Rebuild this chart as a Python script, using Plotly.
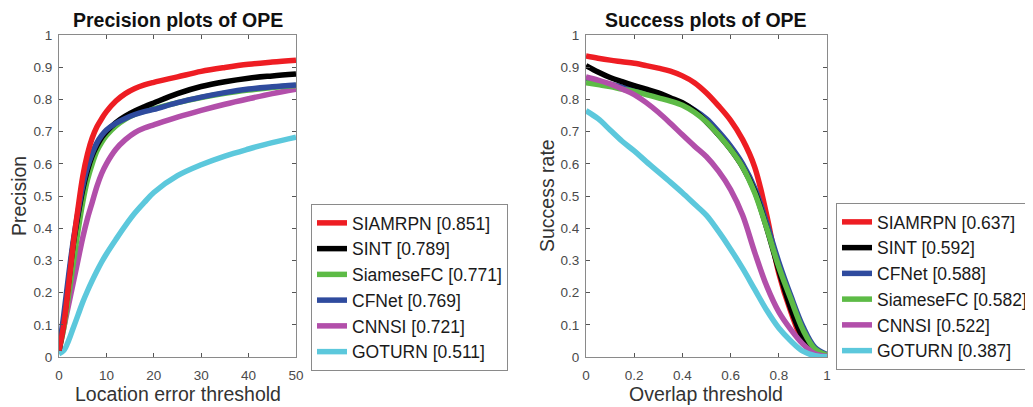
import plotly.graph_objects as go

# ---------------- data ----------------
prec_x = [0, 1, 2, 3, 4, 5, 6, 7, 8, 9, 10, 12, 14, 16, 18, 20, 25, 30, 35, 40, 45, 50]
prec_siamrpn = [0.02, 0.10, 0.22, 0.35, 0.46, 0.56, 0.63, 0.68, 0.715, 0.74, 0.762, 0.795, 0.818, 0.834, 0.845, 0.853, 0.870, 0.887, 0.899, 0.909, 0.916, 0.922]
prec_sint = [0.02, 0.11, 0.23, 0.35, 0.44, 0.52, 0.58, 0.625, 0.657, 0.682, 0.70, 0.728, 0.748, 0.764, 0.777, 0.789, 0.818, 0.840, 0.855, 0.866, 0.873, 0.879]
prec_siamesefc = [0.02, 0.09, 0.19, 0.29, 0.39, 0.48, 0.55, 0.60, 0.64, 0.667, 0.688, 0.718, 0.739, 0.754, 0.764, 0.771, 0.790, 0.806, 0.819, 0.829, 0.837, 0.843]
prec_cfnet = [0.02, 0.13, 0.25, 0.36, 0.45, 0.53, 0.59, 0.632, 0.665, 0.688, 0.705, 0.726, 0.741, 0.753, 0.762, 0.769, 0.790, 0.807, 0.821, 0.832, 0.839, 0.845]
prec_cnnsi = [0.02, 0.09, 0.16, 0.23, 0.30, 0.37, 0.43, 0.48, 0.53, 0.57, 0.60, 0.645, 0.675, 0.697, 0.711, 0.721, 0.745, 0.766, 0.785, 0.802, 0.818, 0.832]
prec_goturn = [0.01, 0.02, 0.05, 0.09, 0.13, 0.17, 0.205, 0.237, 0.267, 0.295, 0.32, 0.365, 0.408, 0.447, 0.48, 0.511, 0.563, 0.597, 0.624, 0.646, 0.666, 0.683]

succ_x = [0, 0.05, 0.1, 0.15, 0.2, 0.25, 0.3, 0.35, 0.4, 0.45, 0.5, 0.55, 0.6, 0.65, 0.7, 0.75, 0.8, 0.85, 0.9, 0.95, 1.0]
succ_siamrpn = [0.935, 0.928, 0.922, 0.917, 0.912, 0.905, 0.897, 0.888, 0.873, 0.852, 0.82, 0.78, 0.735, 0.675, 0.59, 0.44, 0.26, 0.14, 0.05, 0.012, 0.003]
succ_sint = [0.905, 0.885, 0.868, 0.855, 0.843, 0.832, 0.82, 0.805, 0.79, 0.765, 0.73, 0.69, 0.645, 0.59, 0.515, 0.40, 0.27, 0.15, 0.06, 0.015, 0.004]
succ_cfnet = [0.865, 0.855, 0.847, 0.838, 0.83, 0.82, 0.81, 0.80, 0.787, 0.767, 0.74, 0.70, 0.655, 0.60, 0.525, 0.415, 0.295, 0.19, 0.095, 0.03, 0.008]
succ_siamesefc = [0.852, 0.846, 0.84, 0.832, 0.825, 0.815, 0.805, 0.795, 0.782, 0.76, 0.73, 0.69, 0.645, 0.59, 0.51, 0.40, 0.28, 0.18, 0.085, 0.025, 0.006]
succ_cnnsi = [0.87, 0.86, 0.848, 0.832, 0.815, 0.79, 0.76, 0.726, 0.69, 0.655, 0.622, 0.577, 0.52, 0.44, 0.325, 0.22, 0.14, 0.085, 0.04, 0.01, 0.002]
succ_goturn = [0.765, 0.74, 0.705, 0.67, 0.64, 0.607, 0.575, 0.543, 0.51, 0.475, 0.44, 0.39, 0.335, 0.275, 0.21, 0.145, 0.09, 0.05, 0.018, 0.004, 0.001]

prec_labels = ["SIAMRPN [0.851]", "SINT [0.789]", "SiameseFC [0.771]", "CFNet [0.769]", "CNNSI [0.721]", "GOTURN [0.511]"]
succ_labels = ["SIAMRPN [0.637]", "SINT [0.592]", "CFNet [0.588]", "SiameseFC [0.582]", "CNNSI [0.522]", "GOTURN [0.387]"]

x_ticks_prec = [0, 10, 20, 30, 40, 50]
x_ticks_succ = [0, 0.2, 0.4, 0.6, 0.8, 1]
x_ticktext_succ = ["0", "0.2", "0.4", "0.6", "0.8", "1"]
y_ticks = [0, 0.1, 0.2, 0.3, 0.4, 0.5, 0.6, 0.7, 0.8, 0.9, 1]
y_ticktext = ["0", "0.1", "0.2", "0.3", "0.4", "0.5", "0.6", "0.7", "0.8", "0.9", "1"]

# ---------------- styles ----------------
RED = "#EE1D23"
BLACK = "#000000"
GREEN = "#5DBB46"
BLUE = "#2F4B9E"
MAGENTA = "#B24FAA"
CYAN = "#5CC8DC"
LW = 5.5
FONT = "Liberation Sans, Arial, sans-serif"

# page has an 8px body margin: figure occupies window area from (8, 8)
OFF = 8
W, H = 1033 - OFF, 407 - OFF

fig = go.Figure()

prec_series = [
    (prec_goturn, prec_labels[5], CYAN, 6),
    (prec_cnnsi, prec_labels[4], MAGENTA, 5),
    (prec_siamesefc, prec_labels[2], GREEN, 3),
    (prec_sint, prec_labels[1], BLACK, 2),
    (prec_cfnet, prec_labels[3], BLUE, 4),
    (prec_siamrpn, prec_labels[0], RED, 1),
]
for ys, name, col, rank in prec_series:
    fig.add_trace(go.Scatter(x=prec_x, y=ys, mode="lines", name=name,
                             line=dict(color=col, width=LW, shape="spline", smoothing=1.0),
                             xaxis="x", yaxis="y", legend="legend", legendrank=rank))

succ_series = [
    (succ_siamrpn, succ_labels[0], RED, 1),
    (succ_cfnet, succ_labels[2], BLUE, 3),
    (succ_sint, succ_labels[1], BLACK, 2),
    (succ_siamesefc, succ_labels[3], GREEN, 4),
    (succ_cnnsi, succ_labels[4], MAGENTA, 5),
    (succ_goturn, succ_labels[5], CYAN, 6),
]
for ys, name, col, rank in succ_series:
    fig.add_trace(go.Scatter(x=succ_x, y=ys, mode="lines", name=name,
                             line=dict(color=col, width=LW, shape="spline", smoothing=1.0),
                             xaxis="x2", yaxis="y2", legend="legend2", legendrank=rank))

def px_x(p):
    return (p - OFF) / W

def px_y(p):
    return (H - (p - OFF)) / H

ydom = [px_y(357), px_y(35)]
axis_common = dict(showline=True, linecolor="#8a8a8a", linewidth=1, mirror="ticks",
                   ticks="inside", ticklen=4, tickcolor="#555555", showgrid=False, zeroline=False,
                   automargin=False,
                   tickfont=dict(family=FONT, size=13.5, color="#4a4a4a"))

legend_common = dict(xanchor="left", yanchor="top", bordercolor="#8a8a8a", borderwidth=1,
                     bgcolor="white", font=dict(family=FONT, size=17.5, color="#1a1a1a"),
                     tracegroupgap=0, traceorder="normal")

fig.update_layout(
    width=W, height=H,
    margin=dict(l=0, r=0, t=0, b=0, autoexpand=False),
    paper_bgcolor="white", plot_bgcolor="white",
    font=dict(family=FONT),
    xaxis=dict(domain=[px_x(59), px_x(296)], range=[0, 50], tickvals=x_ticks_prec,
               ticklabelstandoff=6, anchor="y", **axis_common),
    yaxis=dict(domain=ydom, range=[0, 1], tickvals=y_ticks, ticktext=y_ticktext,
               ticklabelstandoff=3, anchor="x", **axis_common),
    xaxis2=dict(domain=[px_x(586), px_x(827)], range=[0, 1], tickvals=x_ticks_succ,
                ticktext=x_ticktext_succ, ticklabelstandoff=6, anchor="y2", **axis_common),
    yaxis2=dict(domain=ydom, range=[0, 1], tickvals=y_ticks, ticktext=y_ticktext,
                ticklabelstandoff=3, anchor="x2", **axis_common),
    legend=dict(x=px_x(311), y=px_y(204), **legend_common),
    legend2=dict(x=px_x(836), y=px_y(203), **legend_common),
    showlegend=True,
)

ann = []
ann.append(dict(text="<b>Precision plots of OPE</b>", x=px_x(177.5), y=px_y(20), xref="paper", yref="paper",
                showarrow=False, xanchor="center", yanchor="middle",
                font=dict(family=FONT, size=19.5, color="#111111")))
ann.append(dict(text="<b>Success plots of OPE</b>", x=px_x(706), y=px_y(20), xref="paper", yref="paper",
                showarrow=False, xanchor="center", yanchor="middle",
                font=dict(family=FONT, size=19.5, color="#111111")))
ann.append(dict(text="Location error threshold", x=px_x(177.5), y=px_y(394), xref="paper", yref="paper",
                showarrow=False, xanchor="center", yanchor="middle",
                font=dict(family=FONT, size=19.5, color="#333333")))
ann.append(dict(text="Overlap threshold", x=px_x(706), y=px_y(394), xref="paper", yref="paper",
                showarrow=False, xanchor="center", yanchor="middle",
                font=dict(family=FONT, size=19.5, color="#333333")))
ann.append(dict(text="Precision", x=px_x(19), y=px_y(196), xref="paper", yref="paper",
                showarrow=False, xanchor="center", yanchor="middle", textangle=-90,
                font=dict(family=FONT, size=19.5, color="#333333")))
ann.append(dict(text="Success rate", x=px_x(547), y=px_y(196), xref="paper", yref="paper",
                showarrow=False, xanchor="center", yanchor="middle", textangle=-90,
                font=dict(family=FONT, size=19.5, color="#333333")))
fig.update_layout(annotations=ann)

fig.write_html("out.html")
